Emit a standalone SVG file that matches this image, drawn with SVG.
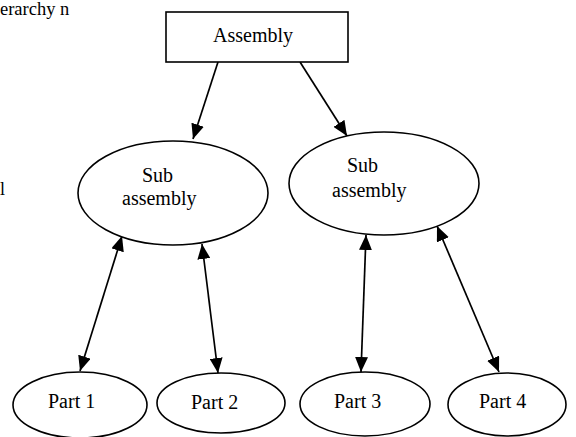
<svg xmlns="http://www.w3.org/2000/svg" width="576" height="437" viewBox="0 0 576 437">
<style>
.shape{fill:#fff;stroke:#000;stroke-width:1.6}
.lbl{font-family:"Liberation Serif","Times New Roman","DejaVu Serif",serif;font-size:20px;fill:#000}
.edge{fill:none;stroke:#000;stroke-width:1.7}
</style>
<defs>
<marker id="ah" viewBox="0 0 15 13" refX="15" refY="6.5" markerWidth="15" markerHeight="13" markerUnits="userSpaceOnUse" orient="auto-start-reverse">
<path d="M0,0 L15,6.5 L0,13 Z" fill="#000"/>
</marker>
</defs>
<rect width="576" height="437" fill="#fff"/>
<text class="lbl" x="0" y="15" style="font-size:18.5px">erarchy n</text>
<text class="lbl" x="0" y="195" style="font-size:18px">l</text>
<g id="connectors">
<line class="edge" x1="218" y1="62" x2="193" y2="139" marker-end="url(#ah)"/>
<line class="edge" x1="300" y1="62" x2="347" y2="136" marker-end="url(#ah)"/>
<line class="edge" x1="80" y1="371" x2="122" y2="236" marker-start="url(#ah)" marker-end="url(#ah)"/>
<line class="edge" x1="218" y1="373" x2="202" y2="244" marker-start="url(#ah)" marker-end="url(#ah)"/>
<line class="edge" x1="361" y1="372" x2="366" y2="235" marker-start="url(#ah)" marker-end="url(#ah)"/>
<line class="edge" x1="499" y1="372" x2="437" y2="226" marker-start="url(#ah)" marker-end="url(#ah)"/>
</g>
<g id="assembly">
<rect class="shape" x="166" y="12" width="182" height="50"/>
<text class="lbl" x="213" y="42">Assembly</text>
</g>
<g id="sub1">
<ellipse class="shape" cx="173" cy="193" rx="95" ry="52"/>
<text class="lbl" x="142" y="182">Sub</text>
<text class="lbl" x="122" y="205">assembly</text>
</g>
<g id="sub2">
<ellipse class="shape" cx="384" cy="183.5" rx="95" ry="51.5"/>
<text class="lbl" x="347" y="172">Sub</text>
<text class="lbl" x="332" y="197">assembly</text>
</g>
<g id="part1">
<ellipse class="shape" cx="80" cy="405" rx="67" ry="33"/>
<text class="lbl" x="48" y="408">Part 1</text>
</g>
<g id="part2">
<ellipse class="shape" cx="221" cy="403" rx="64" ry="30"/>
<text class="lbl" x="191" y="409">Part 2</text>
</g>
<g id="part3">
<ellipse class="shape" cx="365" cy="404" rx="65" ry="32"/>
<text class="lbl" x="334" y="408">Part 3</text>
</g>
<g id="part4">
<ellipse class="shape" cx="507" cy="404.5" rx="59" ry="31.5"/>
<text class="lbl" x="479" y="408">Part 4</text>
</g>
</svg>
